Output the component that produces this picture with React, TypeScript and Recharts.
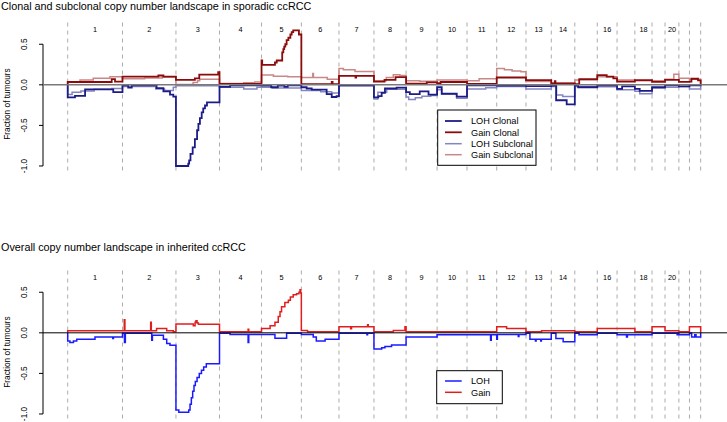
import React from 'react';
import { LineChart, Line, XAxis, YAxis, ReferenceLine } from 'recharts';

// ---------- categories ----------
const chromosomes = ['1','2','3','4','5','6','7','8','9','10','11','12','13','14','15','16','17','18','19','20','21','22'];
const chromLengthsMb = [249,243,198,191,181,171,159,146,141,136,135,133,115,107,102,90,81,78,59,63,48,51];
const labelledChromosomes = ['1','2','3','4','5','6','7','8','9','10','11','12','13','14','16','18','20'];
const yTicks = [-1, -0.5, 0, 0.5];
const yTickLabels = ['-1.0', '-0.5', '0.0', '0.5'];

// ---------- sporadic ccRCC (genome position Mb, fraction) ----------
const sporadicLohClonal: [number, number][] = [
  [0,-0.155],[33,-0.135],[79,-0.055],[207,-0.09],
  [249,-0.005],[275,-0.035],[291,-0.005],[404,-0.04],[435,-0.08],[465,-0.12],[480,-0.145],
  [492,-1.0],[548,-0.97],[552,-0.93],[558,-0.85],[568,-0.77],[578,-0.67],[588,-0.56],[594,-0.48],[601,-0.41],[609,-0.34],[616,-0.29],[624,-0.255],[633,-0.215],
  [690,-0.025],[738,-0.005],
  [881,-0.01],[925,-0.03],[955,-0.01],[985,-0.025],[1000,-0.005],
  [1062,-0.03],[1086,-0.045],[1109,-0.06],[1177,-0.115],[1200,-0.15],[1222,-0.14],
  [1233,-0.005],
  [1392,-0.155],[1412,-0.14],[1427,-0.1],[1442,-0.045],[1495,-0.035],
  [1538,-0.09],[1555,-0.115],[1600,-0.08],[1640,-0.12],
  [1679,-0.03],[1700,-0.11],[1768,-0.145],
  [1815,-0.005],
  [1950,-0.01],
  [2083,-0.015],
  [2198,-0.01],[2220,-0.19],[2268,-0.24],
  [2305,-0.005],[2320,-0.03],
  [2407,-0.005],
  [2497,-0.05],[2520,-0.02],
  [2578,-0.05],[2600,-0.075],
  [2656,-0.03],
  [2715,-0.005],
  [2778,-0.02],
  [2826,-0.005],
];
const sporadicGainClonal: [number, number][] = [
  [0,0.035],[200,0.07],[215,0.04],
  [249,0.1],[412,0.115],[435,0.1],
  [492,0.06],[578,0.08],[598,0.125],[684,0.155],
  [690,0.012],
  [881,0.3],[884,0.245],[942,0.275],[950,0.3],[975,0.4],[980,0.44],[984,0.47],[989,0.5],[995,0.55],[1003,0.58],[1012,0.62],[1018,0.65],[1025,0.67],[1051,0.62],
  [1062,0.008],[1200,0.035],[1204,0.008],
  [1233,0.11],[1308,0.09],[1311,0.11],
  [1392,0.04],[1440,0.06],[1490,0.095],
  [1538,0.015],[1632,0.03],
  [1679,0.02],[1695,0.035],
  [1815,0.01],
  [1950,0.09],
  [2083,0.058],
  [2198,0.017],[2214,0.045],[2217,0.017],
  [2305,0.008],[2325,0.07],
  [2407,0.12],[2450,0.1],[2480,0.08],
  [2497,0.04],
  [2578,0.058],
  [2656,0.037],
  [2715,0.06],
  [2778,0.037],
  [2826,0.04],[2835,0.075],[2865,0.055],
];
const sporadicLohSubclonal: [number, number][] = [
  [0,-0.12],[20,-0.09],[60,-0.075],[120,-0.055],[200,-0.045],
  [249,-0.02],[400,-0.05],[440,-0.07],[480,-0.03],
  [492,-0.01],
  [690,-0.03],[800,-0.05],[860,-0.03],
  [881,-0.03],[930,-0.04],
  [1062,-0.07],[1150,-0.085],[1200,-0.1],
  [1233,-0.01],
  [1392,-0.175],[1410,-0.09],[1450,-0.055],
  [1538,-0.15],[1550,-0.18],[1580,-0.16],[1610,-0.14],[1650,-0.13],
  [1679,-0.06],[1700,-0.11],[1768,-0.165],
  [1815,-0.05],[1900,-0.035],
  [1950,-0.02],
  [2083,-0.05],
  [2198,-0.02],[2222,-0.125],[2250,-0.145],
  [2305,-0.02],
  [2407,-0.025],
  [2497,-0.06],
  [2578,-0.08],[2600,-0.11],
  [2656,-0.04],
  [2715,-0.03],
  [2778,-0.02],
  [2826,-0.05],
];
const sporadicGainSubclonal: [number, number][] = [
  [0,0.037],[56,0.058],[116,0.08],[192,0.1],
  [249,0.075],[350,0.085],[430,0.095],
  [492,0.005],[570,0.03],[590,0.05],[600,0.07],
  [690,0.015],[800,0.025],[850,0.035],
  [881,0.12],[935,0.105],[1000,0.1],
  [1062,0.09],[1114,0.14],[1117,0.09],[1180,0.07],
  [1233,0.2],[1253,0.185],[1306,0.165],
  [1392,0.05],[1448,0.09],[1480,0.125],[1510,0.115],
  [1538,0.05],[1600,0.045],
  [1679,0.06],
  [1815,0.05],[1870,0.075],
  [1950,0.2],[1985,0.185],[2020,0.17],[2060,0.16],
  [2083,0.04],
  [2198,0.02],
  [2305,0.06],
  [2407,0.1],
  [2497,0.06],
  [2578,0.05],
  [2656,0.05],
  [2715,0.07],[2755,0.13],
  [2778,0.08],
  [2826,0.07],
];

// ---------- inherited ccRCC ----------
const inheritedLoh: [number, number][] = [
  [0,-0.1],[10,-0.12],[26,-0.1],[41,-0.08],[124,-0.05],[205,-0.07],[208,-0.05],
  [249,-0.005],[258,-0.12],[262,-0.005],[382,-0.09],[385,-0.03],[435,-0.08],[450,-0.13],[465,-0.153],
  [492,-0.95],[505,-0.98],[550,-0.95],[556,-0.88],[562,-0.8],[568,-0.72],[574,-0.65],[580,-0.6],[588,-0.55],[598,-0.5],[608,-0.46],[618,-0.42],[630,-0.38],
  [690,-0.005],[738,-0.02],[820,-0.12],[823,-0.02],
  [881,-0.02],[942,-0.066],[995,-0.005],
  [1062,-0.02],[1116,-0.05],[1130,-0.1],[1170,-0.08],
  [1233,-0.005],[1360,-0.025],[1363,-0.005],
  [1392,-0.2],[1427,-0.185],[1442,-0.17],[1472,-0.15],
  [1538,-0.05],
  [1679,-0.025],
  [1815,-0.025],[1922,-0.09],[1925,-0.025],
  [1950,-0.08],[1953,-0.02],[2048,-0.045],[2051,-0.02],
  [2083,-0.005],[2101,-0.08],[2126,-0.1],[2129,-0.08],[2150,-0.1],[2153,-0.08],
  [2198,-0.005],[2219,-0.07],[2252,-0.11],
  [2305,-0.005],[2324,-0.025],
  [2407,-0.005],
  [2497,-0.025],[2540,-0.05],[2544,-0.025],
  [2578,-0.025],
  [2656,-0.005],
  [2715,-0.005],[2770,-0.025],[2773,-0.005],
  [2778,-0.025],
  [2826,-0.005],[2836,-0.05],[2850,-0.025],[2856,-0.05],
];
const inheritedGain: [number, number][] = [
  [0,0.025],
  [249,0.025],[257,0.16],[260,0.025],[377,0.13],[380,0.025],[404,0.053],[450,0.027],[480,0.012],
  [492,0.108],[571,0.087],[579,0.13],[583,0.15],[588,0.12],[594,0.105],
  [690,0.012],[820,0.045],[823,0.012],
  [881,0.053],[920,0.087],[942,0.13],[957,0.2],[965,0.26],[972,0.32],[987,0.375],[1003,0.4],[1012,0.44],[1025,0.47],[1040,0.48],[1051,0.5],[1056,0.53],[1059,0.49],
  [1062,0.03],[1090,0.012],
  [1233,0.075],[1286,0.05],[1290,0.075],[1363,0.1],[1366,0.075],
  [1392,0.012],[1480,0.03],[1533,0.075],
  [1538,0.012],
  [1679,0.012],
  [1815,0.012],
  [1950,0.075],[1995,0.053],
  [2083,0.012],[2154,0.027],
  [2198,0.027],
  [2305,0.012],
  [2407,0.053],
  [2497,0.053],
  [2578,0.012],
  [2656,0.075],
  [2715,0.027],
  [2778,0.012],
  [2826,0.075],
];

// ---------- derived helpers ----------
const chromStarts = chromLengthsMb.reduce<number[]>((acc, len, i) => { acc.push(acc[i] + len); return acc; }, [0]);
const GENOME_END = chromStarts[chromStarts.length - 1];
const chromMids = chromosomes.map((_, i) => (chromStarts[i] + chromStarts[i + 1]) / 2);
const labelTicks = chromMids.filter((_, i) => labelledChromosomes.includes(chromosomes[i]));
const midToName = (v: number) => {
  let best = 0;
  chromMids.forEach((m, i) => { if (Math.abs(m - v) < Math.abs(chromMids[best] - v)) best = i; });
  return chromosomes[best];
};

const X_DOMAIN: [number, number] = [-112.3, 2996.7];
const Y_DOMAIN: [number, number] = [-1.068, 0.768];
const FONT = '"Liberation Sans", Arial, Helvetica, sans-serif';

const toPoints = (arr: [number, number][]) => [
  { x: 0, y: 0 },
  ...arr.map(([x, y]) => ({ x, y })),
  { x: GENOME_END, y: 0 },
];

const ChromTick = (props: any) => {
  const { x, payload } = props;
  return (
    <text x={x} y={31.7} textAnchor="middle" fontSize={7.3} fontFamily={FONT} fill="#000">
      {midToName(payload.value)}
    </text>
  );
};

const YTick = (props: any) => {
  const { y, payload } = props;
  const idx = yTicks.findIndex(t => Math.abs(t - payload.value) < 1e-9);
  const tx = 27.5;
  return (
    <g>
      <line x1={39} x2={43} y1={y} y2={y} stroke="#000" strokeWidth={1} />
      <text x={tx} y={y} transform={`rotate(-90 ${tx} ${y})`} textAnchor="middle" fontSize={8.3} fontFamily={FONT} fill="#000">
        {yTickLabels[idx]}
      </text>
    </g>
  );
};

const YTitle = () => (
  <text x={10} y={104} transform="rotate(-90 10 104)" textAnchor="middle" fontSize={8.3} fontFamily={FONT} fill="#000">
    Fraction of tumours
  </text>
);

type Series = { name: string; data: [number, number][]; color: string; width: number };

const sporadicSeries: Series[] = [
  { name: 'LOH Subclonal', data: sporadicLohSubclonal, color: '#8585c2', width: 1.5 },
  { name: 'Gain Subclonal', data: sporadicGainSubclonal, color: '#c88888', width: 1.5 },
  { name: 'LOH Clonal', data: sporadicLohClonal, color: '#1c1c86', width: 1.8 },
  { name: 'Gain Clonal', data: sporadicGainClonal, color: '#8b0b0b', width: 1.8 },
];
const inheritedSeries: Series[] = [
  { name: 'LOH', data: inheritedLoh, color: '#1a1aff', width: 1.5 },
  { name: 'Gain', data: inheritedGain, color: '#e01e1e', width: 1.5 },
];

function Panel({ series, zeroStroke, zeroWidth, top }: { series: Series[]; zeroStroke: string; zeroWidth: number; top: number }) {
  return (
    <div style={{ position: 'absolute', left: 0, top }}>
      <LineChart width={727} height={174} margin={{ top: 12.5, right: 0, bottom: 2.5, left: 0 }}>
        <XAxis type="number" dataKey="x" domain={X_DOMAIN} allowDataOverflow orientation="top" height={10}
          ticks={labelTicks} interval={0} tickLine={false} axisLine={false} tick={<ChromTick />} />
        <YAxis type="number" domain={Y_DOMAIN} allowDataOverflow width={43} ticks={yTicks} interval={0}
          axisLine={false} tickLine={false} tick={<YTick />} label={<YTitle />} />
        {chromStarts.map(b => (
          <ReferenceLine key={b} x={b} stroke="#ababab" strokeDasharray="4 4" strokeWidth={1} />
        ))}
        <ReferenceLine segment={[{ x: X_DOMAIN[0], y: -1 }, { x: X_DOMAIN[0], y: 0.5 }]} stroke="#000" strokeWidth={1} />
        {series.map(s => (
          <Line key={s.name} data={toPoints(s.data)} dataKey="y" type="stepAfter" stroke={s.color}
            strokeWidth={s.width} dot={false} activeDot={false} isAnimationActive={false} />
        ))}
        <ReferenceLine y={0} stroke={zeroStroke} strokeWidth={zeroWidth} />
      </LineChart>
    </div>
  );
}

function LegendBox({ x, y, w, h, items, rowY }: { x: number; y: number; w: number; h: number; items: Series[]; rowY: number[] }) {
  return (
    <g>
      <rect x={x} y={y} width={w} height={h} fill="#fff" stroke="#000" strokeWidth={1} />
      {items.map((s, i) => (
        <g key={s.name}>
          <line x1={445} x2={461.7} y1={rowY[i]} y2={rowY[i]} stroke={s.color} strokeWidth={s.width} />
          <text x={471} y={rowY[i] + 3.3} fontSize={9.2} fontFamily={FONT} fill="#000">{s.name}</text>
        </g>
      ))}
    </g>
  );
}

export default function App() {
  const topLegend = ['LOH Clonal', 'Gain Clonal', 'LOH Subclonal', 'Gain Subclonal'].map(n => sporadicSeries.find(s => s.name === n)!);
  return (
    <div style={{ position: 'absolute', left: 0, top: 0, width: 727, height: 422, overflow: 'hidden', background: '#fff' }}>
      <Panel series={sporadicSeries} zeroStroke="#7a7a7a" zeroWidth={1.5} top={0} />
      <Panel series={inheritedSeries} zeroStroke="#000" zeroWidth={1} top={248} />
      <svg width={727} height={422} style={{ position: 'absolute', left: 0, top: 0, pointerEvents: 'none' }}>
        <text x={1} y={9.5} fontSize={10.8} fontFamily={FONT} fill="#000">Clonal and subclonal copy number landscape in sporadic ccRCC</text>
        <text x={1} y={251} fontSize={10.8} fontFamily={FONT} fill="#000">Overall copy number landscape in inherited ccRCC</text>
        <LegendBox x={437.7} y={110} w={98.3} h={55.3} items={topLegend} rowY={[121, 132.3, 143.7, 154.7]} />
        <LegendBox x={436.7} y={370.7} w={65.6} h={33} items={inheritedSeries} rowY={[381, 392.3]} />
      </svg>
    </div>
  );
}
